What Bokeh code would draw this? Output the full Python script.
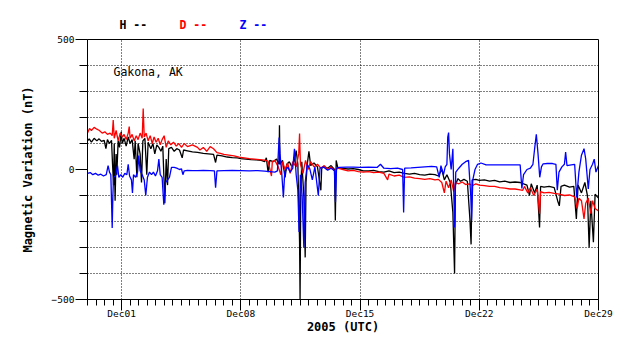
import numpy as np
import pandas as pd
from bokeh.plotting import figure
from bokeh.layouts import column
from bokeh.models import Range1d, FixedTicker, DatetimeTickFormatter, Label, ColumnDataSource
from bokeh.embed import file_html
from bokeh.resources import INLINE

# ---------------- data ----------------
START = "2005-11-29"
END = "2005-12-29"
MAJOR_TICK_DATES = ["2005-12-01", "2005-12-08", "2005-12-15", "2005-12-22", "2005-12-29"]
GRID_DATES = ["2005-12-01", "2005-12-08", "2005-12-15", "2005-12-22"]
Y_LABEL_TICKS = [-500, 0, 500]
Y_MINOR_TICKS = [-400, -300, -200, -100, 100, 200, 300, 400]
STATION = "Gakona, AK"
SERIES_NAMES = ["H", "D", "Z"]
SERIES_COLORS = ["black", "red", "blue"]

# time in days after 2005-11-29 00:00 UTC, values in nT
H_t = [0.00, 0.10, 0.23, 0.39, 0.55, 0.68, 0.82, 0.98, 1.08, 1.17, 1.29, 1.41, 1.47, 1.53, 1.57, 1.62,
       1.68, 1.72, 1.80, 1.88, 1.98, 2.04, 2.15, 2.27, 2.39, 2.50, 2.62, 2.74, 2.80, 2.90, 2.97, 3.09,
       3.17, 3.25, 3.37, 3.48, 3.56, 3.72, 3.84, 3.95, 4.07, 4.19, 4.31, 4.42, 4.54, 4.62, 4.70, 4.77,
       4.93, 5.09, 5.24, 5.40, 5.56, 5.64, 5.87, 6.16, 6.46,
       6.80, 7.10, 7.40, 7.52, 7.60, 7.90, 8.20, 8.50, 8.80, 9.00, 9.30, 9.60, 9.90,
       10.20, 10.40, 10.50, 10.60, 10.70, 10.90, 11.10, 11.25, 11.27, 11.30, 11.45, 11.60, 11.70, 11.85,
       12.00, 12.15, 12.25, 12.35, 12.45, 12.48, 12.52, 12.58, 12.70, 12.78, 12.83, 12.90, 13.00, 13.10,
       13.30, 13.50, 13.70, 13.75, 13.90, 14.10, 14.30, 14.50, 14.55, 14.60, 14.70, 15.00, 15.30, 15.60,
       15.90, 16.20, 16.50, 16.80, 17.10, 17.40, 17.70, 18.00, 18.30, 18.60, 18.90, 19.20, 19.50, 19.80,
       20.10, 20.40, 20.60, 20.80, 20.95, 21.10, 21.30, 21.45, 21.55, 21.60, 21.75, 21.90, 22.10, 22.30,
       22.45, 22.52, 22.58, 22.80, 23.00, 23.30, 23.60, 23.90, 24.20, 24.50, 24.80, 25.10, 25.40, 25.60,
       25.80, 25.95, 26.05, 26.25, 26.40, 26.54, 26.60, 26.80, 27.10, 27.40, 27.60, 27.70, 27.80, 28.00,
       28.30, 28.55, 28.70, 28.80, 29.00, 29.20, 29.35, 29.45, 29.55, 29.70, 29.80, 30.00]
H_v = [110, 118, 105, 120, 110, 118, 108, 112, 80, 115, 100, 112, 20, -60, 100, -120,
       60, -20, 110, 85, 145, 100, 120, 90, 125, 100, 115, 40, 110, -30, 100, 60,
       -50, 110, 120, -20, 105, 80, 100, 60, 95, 85, 70, 90, -130, 40, -60, 80,
       85, 70, 80, 75, 45, 75, 72, 68, 66,
       62, 60, 58, 27, 55, 52, 48, 46, 45, 42, 40, 38, 37,
       35, 30, 45, -10, 35, 30, 40, 20, 170, 20, 35, -30, 20, 30,
       10, 35, 73, 20, -280, -500, -100, 30, -100, -338, -50, 20, 70, 15,
       25, 10, -80, 5, 10, 5, 15, 0, -196, 35, 5, 4, 2, 3,
       0, -5, -5, -3, -8, -10, -5, -12, -10, -15, -18, -15, -20, -22,
       -18, -20, -25, 0, -40, -20, -50, -165, -400, -60, -35, -45, -38, -45,
       -190, -288, -40, -38, -42, -40, -45, -42, -48, -45, -50, -48, -50, -55,
       -60, -100, -55, -90, -60, -223, -65, -68, -65, -70, -120, -140, -65, -60,
       -68, -65, -190, -60, -90, -50, -100, -300, -120, -280, -95, -110]

D_t = [0.00, 0.12, 0.23, 0.39, 0.55, 0.70, 0.86, 1.02, 1.17, 1.33, 1.45, 1.51, 1.57, 1.68, 1.80, 1.92,
       2.04, 2.15, 2.27, 2.39, 2.45, 2.50, 2.62, 2.74, 2.86, 2.97, 3.09, 3.21, 3.27, 3.33, 3.44, 3.56,
       3.68, 3.80, 3.91, 4.03, 4.15, 4.27, 4.38, 4.50, 4.62, 4.74, 4.89, 5.05, 5.21, 5.36, 5.52, 5.68,
       5.87, 6.16, 6.46, 6.60, 6.80,
       7.00, 7.20, 7.40, 7.60, 7.80, 8.00, 8.30, 8.60, 8.90, 9.20, 9.50, 9.80, 10.10, 10.40, 10.60, 10.80,
       10.85, 11.00, 11.20, 11.35, 11.45, 11.60, 11.75, 11.90, 12.05, 12.25, 12.40, 12.45, 12.50, 12.65,
       12.80, 12.95, 13.10, 13.30, 13.50, 13.70, 13.90, 14.10, 14.30, 14.50, 14.70, 15.00, 15.30, 15.60,
       15.90, 16.20, 16.50, 16.80, 17.10, 17.40, 17.62, 17.70, 18.00, 18.30, 18.60, 18.90, 19.20, 19.50,
       19.80, 20.10, 20.40, 20.60, 20.80, 20.95, 21.05, 21.20, 21.35, 21.50, 21.60, 21.80, 22.00, 22.20,
       22.40, 22.60, 22.80, 23.00, 23.30, 23.60, 23.90, 24.20, 24.50, 24.80, 25.10, 25.40, 25.55, 25.65,
       25.85, 26.00, 26.20, 26.40, 26.54, 26.60, 26.80, 27.10, 27.40, 27.70, 28.00, 28.30, 28.60, 28.75,
       28.85, 29.00, 29.15, 29.25, 29.40, 29.55, 29.65, 29.80, 30.00]
D_v = [140, 158, 150, 162, 155, 150, 140, 145, 135, 140, 130, 190, 120, 150, 110, 140,
       125, 135, 115, 140, 165, 120, 135, 110, 130, 115, 140, 120, 235, 125, 140, 110,
       130, 100, 125, 105, 120, 95, 115, 130, 85, 110, 95, 105, 90, 100, 85, 100,
       88, 95, 85, 75, 85,
       70, 88, 80, 65, 62, 58, 55, 52, 48, 45, 42, 40, 38, 36, 32, -25,
       30, 35, 10, -20, 30, 0, 25, -15, 30, 10, 60, 138, 20, -15,
       35, 0, 30, 10, 20, 5, 15, 0, 10, -5, 5, 0, -5, -3,
       -8, -10, -8, -12, -10, -15, -40, -18, -25, -22, -30, -28, -33, -35,
       -38, -35, -40, -38, -50, -90, -45, -70, -40, -85, -50, -55, -48, -58,
       -55, -62, -55, -60, -62, -65, -65, -70, -72, -75, -75, -78, -80, -65,
       -90, -70, -100, -75, -170, -85, -90, -88, -92, -95, -100, -98, -105, -150,
       -110, -120, -190, -130, -110, -170, -120, -150, -160]

Z_t = [0.00, 0.16, 0.31, 0.47, 0.63, 0.78, 0.94, 1.10, 1.21, 1.29, 1.37, 1.45, 1.49, 1.53, 1.64, 1.76,
       1.84, 1.96, 2.07, 2.19, 2.31, 2.39, 2.47, 2.58, 2.64, 2.70, 2.82, 2.94, 3.01, 3.09, 3.21, 3.33,
       3.42, 3.52, 3.64, 3.76, 3.87, 3.99, 4.11, 4.19, 4.27, 4.38, 4.48, 4.58, 4.70, 4.81, 4.93, 5.09,
       5.24, 5.40, 5.52, 5.60, 5.68, 5.87, 6.16, 6.46,
       6.80, 7.20, 7.45, 7.52, 7.60, 8.00, 8.50, 9.00, 9.50, 10.00, 10.40, 10.70, 11.00, 11.15, 11.25,
       11.30, 11.40, 11.50, 11.58, 11.75, 11.90, 12.05, 12.15, 12.25, 12.35, 12.42, 12.50, 12.60, 12.70,
       12.78, 12.90, 13.05, 13.20, 13.35, 13.55, 13.65, 13.85, 14.10, 14.30, 14.50, 14.56, 14.62, 14.80,
       15.20, 15.60, 16.00, 16.50, 17.00, 17.20, 17.40, 17.80, 18.20, 18.50, 18.56, 18.62, 19.00, 19.40,
       19.80, 20.20, 20.50, 20.65, 20.75, 20.90, 21.00, 21.10, 21.15, 21.20, 21.25, 21.35, 21.45, 21.55,
       21.62, 21.80, 22.00, 22.20, 22.37, 22.50, 22.55, 22.62, 22.75, 22.90, 23.10, 23.40, 23.80, 24.20,
       24.60, 25.00, 25.40, 25.50, 25.60, 25.80, 26.00, 26.15, 26.25, 26.35, 26.45, 26.55, 26.65, 26.75,
       27.00, 27.30, 27.50, 27.58, 27.68, 27.85, 28.00, 28.07, 28.15, 28.40, 28.60, 28.72, 28.85, 29.00,
       29.15, 29.25, 29.40, 29.50, 29.65, 29.75, 29.85, 30.00]
Z_v = [-15, -12, -20, -15, -22, -18, -25, -20, 15, -10, -20, -225, -100, -30, -25, 15,
       -30, -20, -30, -15, -20, 20, -25, -40, -90, -20, -30, -10, 54, -5, -20, -40,
       -100, -30, -10, -20, -10, -25, -5, 40, -20, -30, -135, -50, -40, -30, 8, 8,
       5, 0, 2, -20, -5, -3, -4, -4,
       -3, -4, -5, -70, -5, -4, -3, -4, -5, -4, -6, -8, -10, -5, 123,
       60, -10, -108, -10, 10, -10, 5, 80, -20, -80, -240, -20, -100, -300,
       -50, 20, 3, -40, 10, -100, 5, 10, -3, 5, -5, -126, 5, 8,
       9, 9, 8, 9, 8, 20, 5, 3, 5, 0, -165, 5, 6, 8,
       10, 12, 10, -30, 15, -20, 10, 20, 125, 142, 60, 0, 80, -223,
       -10, 5, 20, 30, 35, -100, -196, -40, 0, 20, 25, 18, 18, 18,
       18, 18, 18, -73, -20, 0, 5, 20, 80, 135, 60, -30, 10, 22,
       23, 23, 20, -80, -10, 10, 20, 67, 15, 18, 20, -108, -10, 55,
       80, 40, -75, 0, 20, 40, -10, 15]

# ---------------- figure ----------------
base = pd.Timestamp(START)


def to_dt(t):
    return base + pd.to_timedelta(np.asarray(t, dtype=float), unit="D")


def ms(d):
    return pd.Timestamp(d).value / 1e6


FONT = "DejaVu Sans Mono"

# strip above the plot holding the series key (its frame is aligned with the main frame)
key = figure(width=630, height=30, output_backend="svg", toolbar_location=None, tools="",
             x_axis_location=None, y_axis_location=None, title=None,
             x_range=Range1d(0, 1), y_range=Range1d(0, 1), min_border=0)
key.outline_line_color = None
key.background_fill_color = "white"
key.border_fill_color = "white"
key.grid.visible = False
for i, (name, color) in enumerate(zip(SERIES_NAMES, SERIES_COLORS)):
    key.add_layout(Label(x=32 + 60 * i, y=6, x_units="screen", y_units="screen",
                         text=f"{name} --", text_color=color, text_font=FONT,
                         text_font_size="11.5px", text_font_style="bold",
                         text_baseline="middle", text_align="left"))

p = figure(width=630, height=319, x_axis_type="datetime", output_backend="svg",
           toolbar_location=None, tools="", title=None,
           x_range=Range1d(ms(START), ms(END)), y_range=Range1d(-500, 500),
           min_border_left=87, min_border_right=32, min_border_top=9, min_border_bottom=50)
p.background_fill_color = "white"
p.border_fill_color = "white"
p.outline_line_color = "black"
p.outline_line_width = 1
p.outline_line_alpha = 1

series = [(H_t, H_v), (D_t, D_v), (Z_t, Z_v)]
for (t, v), name, color in zip(series, SERIES_NAMES, SERIES_COLORS):
    src = ColumnDataSource(dict(x=to_dt(t), y=v))
    p.line("x", "y", source=src, line_color=color, line_width=1.3)

# x axis
minor_x = [ms(d) for d in pd.date_range(START, END, freq="12h")]
p.xaxis.ticker = FixedTicker(ticks=[ms(d) for d in MAJOR_TICK_DATES], minor_ticks=minor_x)
fmt = "%b%d"
p.xaxis.formatter = DatetimeTickFormatter(microseconds=fmt, milliseconds=fmt, seconds=fmt, minsec=fmt,
                                          minutes=fmt, hourmin=fmt, hours=fmt, days=fmt, months=fmt, years=fmt)
p.xaxis.axis_label = "2005 (UTC)"
p.xaxis.major_tick_out = 11
p.xaxis.major_tick_in = 0
p.xaxis.minor_tick_out = 6
p.xaxis.minor_tick_in = 0
p.xaxis.major_label_standoff = -3
p.xaxis.axis_label_standoff = -2

# y axis
p.yaxis.ticker = FixedTicker(ticks=Y_LABEL_TICKS, minor_ticks=Y_MINOR_TICKS)
p.yaxis.axis_label = "Magnetic Variation (nT)"
p.yaxis.major_tick_out = 12
p.yaxis.major_tick_in = 0
p.yaxis.minor_tick_out = 8
p.yaxis.minor_tick_in = 0
p.yaxis.major_label_standoff = 1
p.yaxis.axis_label_standoff = 14

for ax in (p.xaxis, p.yaxis):
    ax.axis_line_color = "black"
    ax.major_tick_line_color = "black"
    ax.minor_tick_line_color = "black"
    ax.major_label_text_font = FONT
    ax.major_label_text_font_size = "9.5px"
    ax.major_label_text_color = "black"
    ax.axis_label_text_font = FONT
    ax.axis_label_text_font_size = "12px"
    ax.axis_label_text_font_style = "bold"
    ax.axis_label_text_color = "black"

# grids
p.xgrid.ticker = FixedTicker(ticks=[ms(d) for d in GRID_DATES])
p.ygrid.ticker = FixedTicker(ticks=Y_MINOR_TICKS)
for g in (p.xgrid, p.ygrid):
    g.grid_line_color = "black"
    g.grid_line_dash = "1 2"
    g.grid_line_width = 1

p.add_layout(Label(x=26, y=227.5, x_units="screen", y_units="screen", text=STATION,
                   text_color="black", text_font=FONT, text_font_size="11.5px",
                   text_baseline="middle", text_align="left"))

layout = column(key, p, spacing=0)
open("out.html", "w").write(file_html(layout, INLINE))
